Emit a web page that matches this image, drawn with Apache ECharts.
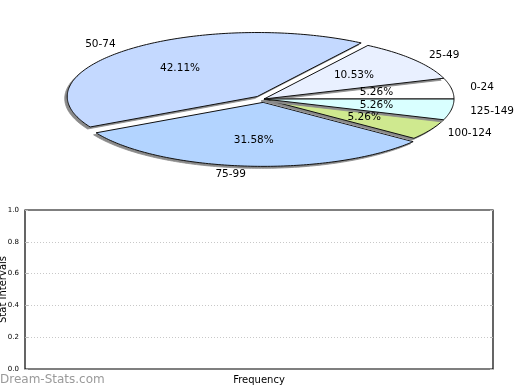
<!DOCTYPE html>
<html>
<head>
<meta charset="utf-8">
<script src="https://cdn.jsdelivr.net/npm/echarts@6/dist/echarts.min.js"></script>
<style>html,body{margin:0;padding:0;background:#fff}#c{width:520px;height:390px}</style>
</head>
<body>
<div id="c"></div>
<script>
// ---- data ----
var categories = ['0-24', '25-49', '50-74', '75-99', '100-124', '125-149'];
var counts = [1, 2, 8, 6, 1, 1];
var exploded = [false, false, true, true, false, false];
var sliceColors = ['#ffffff', '#e9f0ff', '#c4d9ff', '#b3d4ff', '#cfe98f', '#d9ffff'];
var yTicks = [0, 0.2, 0.4, 0.6, 0.8, 1.0];

var total = counts.reduce(function (a, b) { return a + b; }, 0);
var CX = 264, CY = 99, RX = 190, RY = 64, EXPLODE = 10;
var SHX = -2.5, SHY = 2;
var FONT = '10.5px "DejaVu Sans"';

function renderSlice(params, api) {
  var i = params.dataIndex;
  var before = 0;
  for (var k = 0; k < i; k++) before += counts[k];
  var v = api.value(0);
  var a0 = before / total * Math.PI * 2;
  var a1 = (before + v) / total * Math.PI * 2;
  var mid = (a0 + a1) / 2;
  var ox = 0, oy = 0;
  if (exploded[i]) {
    ox = EXPLODE * Math.cos(mid);
    oy = -EXPLODE * Math.sin(mid) * RY / RX;
  }
  var cx = CX + ox, cy = CY + oy;
  var pts = [[cx, cy]];
  var steps = Math.max(4, Math.ceil((a1 - a0) / (Math.PI / 180)));
  for (var s = 0; s <= steps; s++) {
    var t = a0 + (a1 - a0) * s / steps;
    pts.push([cx + RX * Math.cos(t), cy - RY * Math.sin(t)]);
  }
  var shadowPts = pts.map(function (p) { return [p[0] + SHX, p[1] + SHY]; });
  var c = Math.cos(mid), sn = Math.sin(mid);
  var pct = (v / total * 100).toFixed(2) + '%';
  return {
    type: 'group',
    children: [
      {
        type: 'polygon',
        z2: 2 * i,
        shape: { points: shadowPts },
        style: { fill: '#8a8a8a', stroke: '#8a8a8a', lineWidth: 0.8 }
      },
      {
        type: 'polygon',
        z2: 2 * i + 1,
        shape: { points: pts },
        style: {
          fill: sliceColors[i],
          stroke: '#111',
          lineWidth: 1,
          lineJoin: 'round'
        }
      },
      {
        type: 'text',
        z2: 100,
        x: cx + RX * 0.6 * c,
        y: cy - RY * 0.6 * sn,
        style: {
          text: pct, font: FONT, fill: '#000',
          align: 'center', verticalAlign: 'middle',
          textAlign: 'center', textVerticalAlign: 'middle'
        }
      },
      {
        type: 'text',
        z2: 100,
        x: cx + RX * 1.1 * c,
        y: cy - RY * 1.12 * sn,
        style: {
          text: categories[i], font: FONT, fill: '#000',
          align: c >= 0 ? 'left' : 'right', verticalAlign: 'middle',
          textAlign: c >= 0 ? 'left' : 'right', textVerticalAlign: 'middle'
        }
      }
    ]
  };
}

var chart = echarts.init(document.getElementById('c'), null, { renderer: 'canvas' });
chart.setOption({
  animation: false,
  backgroundColor: '#fff',
  grid: {
    left: 25, right: 27, top: 210, bottom: 21,
    containLabel: false, outerBoundsMode: 'none',
    show: true, borderColor: '#000', borderWidth: 1.2, backgroundColor: 'transparent'
  },
  xAxis: {
    type: 'value', min: 0, max: 1,
    name: 'Frequency', nameLocation: 'middle', nameGap: 6,
    nameTextStyle: { fontFamily: 'DejaVu Sans', fontSize: 10, color: '#000' },
    axisLine: { show: false }, axisTick: { show: false },
    axisLabel: { show: false }, splitLine: { show: false }
  },
  yAxis: [{
    type: 'value', min: yTicks[0], max: yTicks[yTicks.length - 1], interval: 0.2,
    name: 'Stat Intervals', nameLocation: 'middle', nameGap: 17, nameRotate: 90,
    nameMoveOverlap: false,
    nameTextStyle: { fontFamily: 'DejaVu Sans', fontSize: 10, color: '#000' },
    axisLine: { show: false },
    axisTick: { show: true, inside: true, length: 3, lineStyle: { color: '#bbb', width: 1 } },
    axisLabel: {
      fontFamily: 'DejaVu Sans', fontSize: 7, color: '#000', margin: 6,
      formatter: function (v) { return v.toFixed(1); }
    },
    splitLine: { show: true, showMinLine: false, showMaxLine: false,
      lineStyle: { color: '#c8c8c8', type: [1, 2], width: 1 } }
  }, {
    type: 'value', position: 'right', min: 0, max: 1, interval: 0.2,
    axisLine: { show: false },
    axisTick: { show: true, inside: true, length: 3, lineStyle: { color: '#bbb', width: 1 } },
    axisLabel: { show: false }, splitLine: { show: false }
  }],
  graphic: [{
    type: 'text', left: 0, top: 374,
    style: { text: 'Dream-Stats.com', font: '12px "DejaVu Sans"', fill: '#9a9a9a' }
  }],
  series: [{
    type: 'custom',
    coordinateSystem: 'none',
    renderItem: renderSlice,
    data: counts.map(function (v) { return [v]; }),
    silent: true
  }]
});
</script>
</body>
</html>
